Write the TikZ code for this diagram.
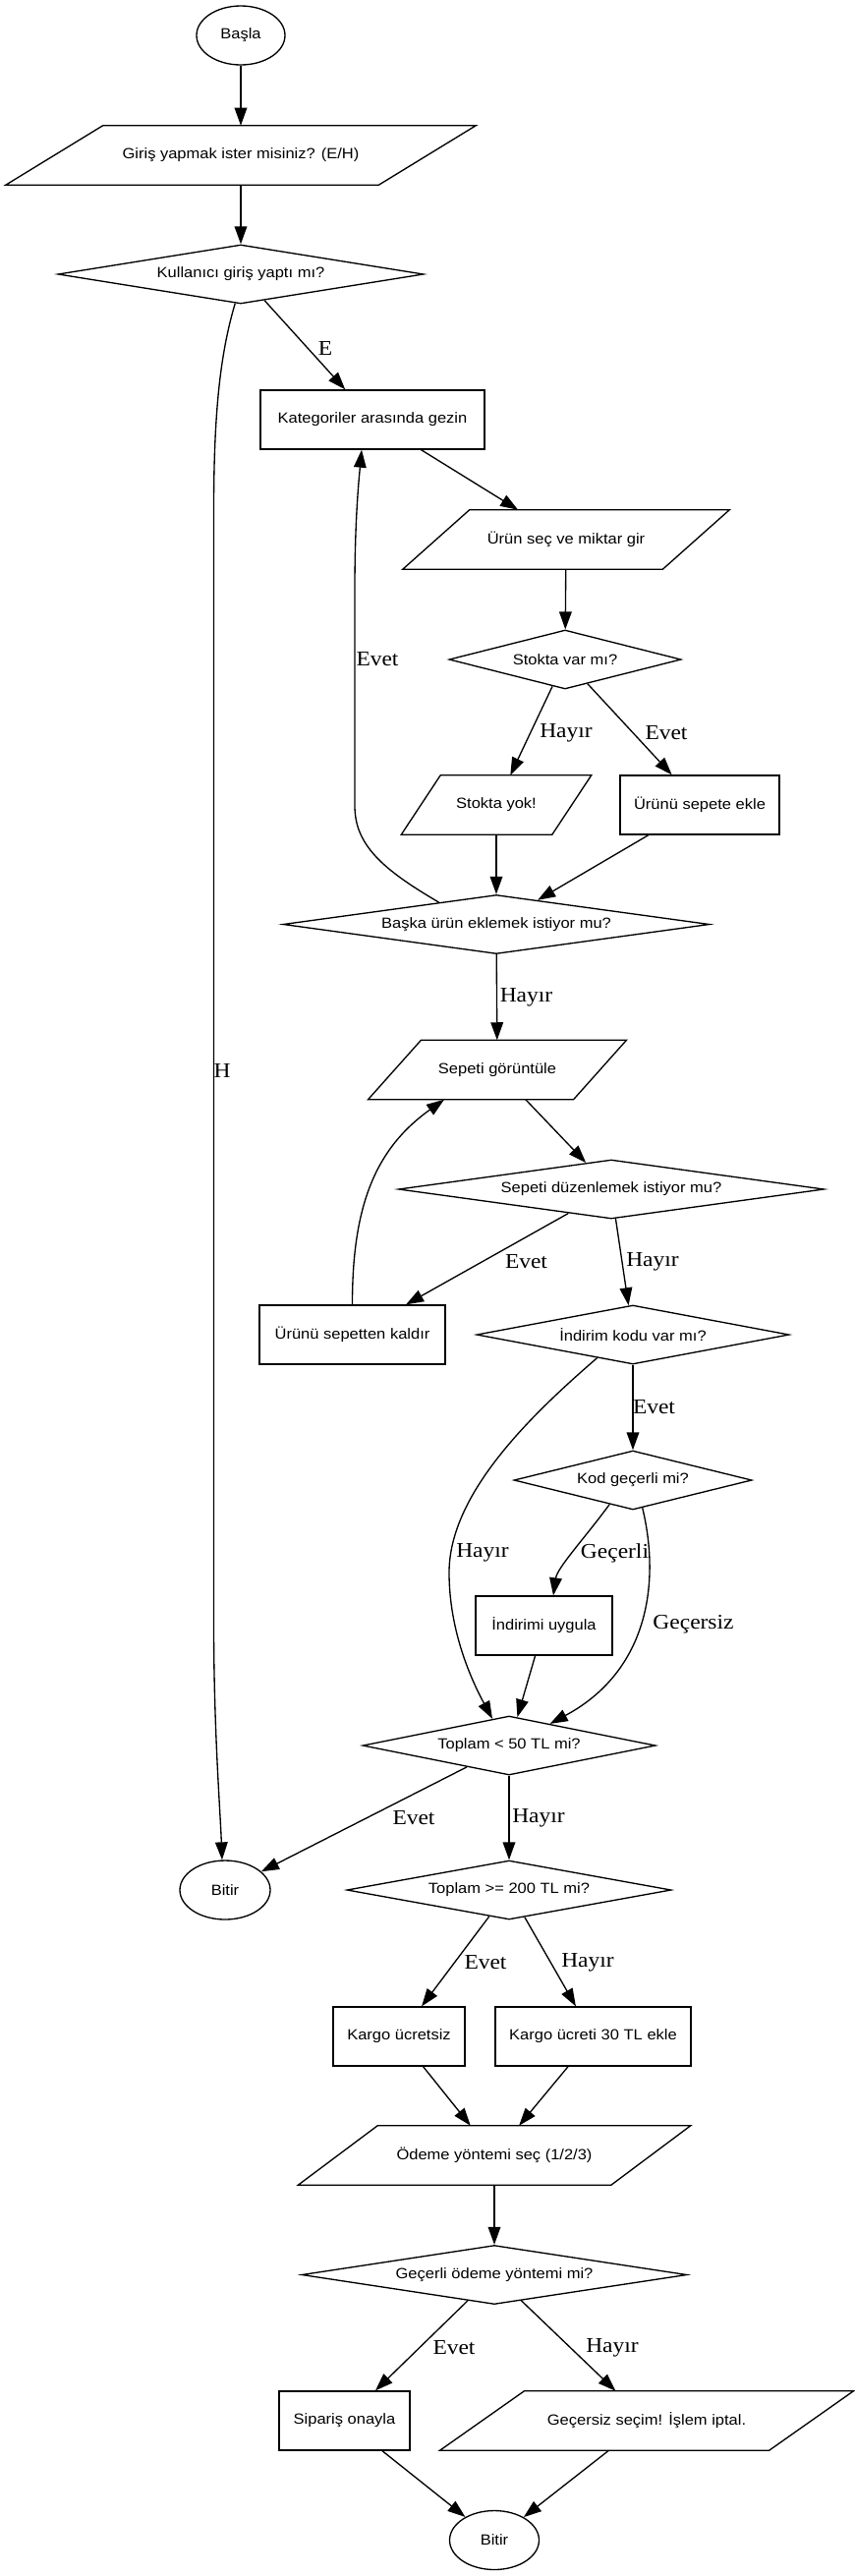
\documentclass[tikz,border=0pt]{standalone}
\usepackage{fontspec}
\newfontfamily\nfont[FakeStretch=1.1]{Liberation Sans}
\newfontfamily\lfont[FakeStretch=1.1]{Liberation Serif}
\usetikzlibrary{shapes.geometric,arrows.meta,calc}
\tikzset{
  nodetext/.style={font=\nfont\fontsize{11.25}{13}\selectfont, text=black},
  term/.style 2 args={ellipse, draw, line width=1pt, inner sep=0pt, nodetext,
    minimum width=#1*0.75pt, minimum height=#2*0.75pt},
  proc/.style 2 args={rectangle, draw, line width=1pt, inner sep=0pt, nodetext,
    minimum width=#1*0.75pt, minimum height=#2*0.75pt},
  dec/.style 2 args={diamond, draw, line width=1pt, inner sep=0pt, nodetext,
    minimum width=#1*0.75pt, minimum height=#2*0.75pt},
  iotext/.style={rectangle, draw=none, inner sep=0pt, nodetext, minimum height=45pt},
  ioshape/.style={draw, line width=1pt, line join=miter},
  arr/.style={draw, line width=1pt, -{Triangle[length=13.5pt,width=9.5pt]}},
  lbl/.style={font=\lfont\fontsize{16}{18}\selectfont, inner sep=0pt, text=black},
}
% name, x, y, common width, skew, text
\newcommand\paranode[6]{%
  \node[iotext, minimum width=#4*0.75pt] (#1) at (#2,#3) {#6};
  \draw[ioshape] ($(#1.north west)+(#5/2,0)$) -- ($(#1.north east)+(#5/2,0)$)
     -- ($(#1.south east)-(#5/2,0)$) -- ($(#1.south west)-(#5/2,0)$) -- cycle;
}
\begin{document}
\begin{tikzpicture}[x=0.75pt, y=-0.75pt]
\useasboundingbox (0,0) rectangle (870,2621);

% nodes
\node[term={90}{60}] (basla) at (245,36) {Başla};
\paranode{in1}{245}{158}{379}{99}{Giriş yapmak ister misiniz? (E/H)}
\node[dec={372}{60}, aspect=6.2] (d1) at (245,279) {Kullanıcı giriş yaptı mı?};
\node[proc={228}{60}] (kat) at (379,427) {Kategoriler arasında gezin};
\paranode{in2}{576}{549}{264}{68}{Ürün seç ve miktar gir}
\node[dec={236}{60}, aspect=3.93] (d2) at (575,671) {Stokta var mı?};
\paranode{yok}{505}{819}{153}{40}{Stokta yok!}
\node[proc={162}{60}] (ekle) at (712,819) {Ürünü sepete ekle};
\node[dec={434}{60}, aspect=7.23] (d3) at (505,940.5) {Başka ürün eklemek istiyor mu?};
\paranode{sg}{506}{1088.5}{208.5}{54}{Sepeti görüntüle}
\node[dec={433}{60}, aspect=7.22] (d4) at (622,1210) {Sepeti düzenlemek istiyor mu?};
\node[proc={189}{60}] (kaldir) at (358.5,1358) {Ürünü sepetten kaldır};
\node[dec={318}{60}, aspect=5.3] (d5) at (644,1358) {İndirim kodu var mı?};
\node[dec={242}{60}, aspect=4.03] (d6) at (644,1506) {Kod geçerli mi?};
\node[proc={139}{60}] (uyg) at (553.5,1654) {İndirimi uygula};
\node[dec={298}{60}, aspect=4.97] (d7) at (518,1776) {Toplam < 50 TL mi?};
\node[term={92}{60}] (bitir1) at (229,1923) {Bitir};
\node[dec={330}{60}, aspect=5.5] (d8) at (518,1923) {Toplam >= 200 TL mi?};
\node[proc={134}{60}] (kf) at (406,2072) {Kargo ücretsiz};
\node[proc={199}{60}] (k30) at (603.5,2072) {Kargo ücreti 30 TL ekle};
\paranode{odeme}{503}{2193}{318}{81}{Ödeme yöntemi seç (1/2/3)}
\node[dec={392}{60}, aspect=6.53] (d9) at (503,2314.5) {Geçerli ödeme yöntemi mi?};
\node[proc={133}{60}] (onay) at (350.5,2463) {Sipariş onayla};
\paranode{iptal}{658}{2463}{334.5}{86}{Geçersiz seçim! İşlem iptal.}
\node[term={91}{60}] (bitir2) at (503,2584.5) {Bitir};

% connectors
\draw[arr] (basla) -- (in1);
\draw[arr] (in1) -- (d1);
\draw[arr] (d1) -- (kat);
\node[lbl] (lE) at (331,355) {E};
\draw[arr] (d1.259) .. controls (224,360) and (217.5,420) .. (217.5,520)
   -- (217.5,1650) .. controls (217.5,1760) and (224,1840) .. ($(bitir1.north)+(-3,0)$);
\node[lbl] (lH) at (226,1089) {H};
\draw[arr] (kat) -- (in2);
\draw[arr] (in2) -- (d2);
\draw[arr] (d2) -- (yok);
\node[lbl] (l1) at (576,745.6) {Hayır};
\draw[arr] (d2) -- (ekle);
\node[lbl] (l2) at (678,745.6) {Evet};
\draw[arr] (yok) -- (d3);
\draw[arr] (ekle) -- (d3);
\draw[arr] (d3.159) .. controls (390,885) and (361,860) .. (361,820)
   -- (361,600) .. controls (361,530) and (365,490) .. ($(kat.south)+(-11,0)$);
\node[lbl] (l3) at (384,671) {Evet};
\draw[arr] (d3) -- (sg);
\node[lbl] (l4) at (535.5,1015) {Hayır};
\draw[arr] (sg) -- (d4);
\draw[arr] (d4) -- (kaldir);
\node[lbl] (l5) at (535.5,1284) {Evet};
\draw[arr] (kaldir.north) .. controls (358.5,1230) and (380,1170) .. ($(sg.south)+(-54,0)$);
\draw[arr] (d4) -- (d5);
\node[lbl] (l6) at (664,1284) {Hayır};
\draw[arr] (d5) -- (d6);
\node[lbl] (l7) at (665.5,1432) {Evet};
\draw[arr] (d5.213) .. controls (540,1440) and (457,1520) .. (457,1600)
   .. controls (457,1660) and (480,1710) .. (d7.122);
\node[lbl] (l8) at (491,1580) {Hayır};
\draw[arr] (d6.226) .. controls (595,1565) and (567,1595) .. ($(uyg.north)+(9.5,0)$);
\node[lbl] (l9) at (625.5,1580) {Geçerli};
\draw[arr] (d6.289) .. controls (672,1610) and (660,1700) .. (d7.28);
\node[lbl] (l10) at (705.5,1653) {Geçersiz};
\draw[arr] (uyg) -- (d7);
\draw[arr] (d7) -- (bitir1);
\node[lbl] (l11) at (421,1850) {Evet};
\draw[arr] (d7) -- (d8);
\node[lbl] (l12) at (548,1850) {Hayır};
\draw[arr] (d8) -- (kf);
\node[lbl] (l13) at (494,1997) {Evet};
\draw[arr] (d8) -- (k30);
\node[lbl] (l14) at (598,1997) {Hayır};
\draw[arr] (kf) -- (odeme);
\draw[arr] (k30) -- (odeme);
\draw[arr] (odeme) -- (d9);
\draw[arr] (d9) -- (onay);
\node[lbl] (l15) at (462,2389) {Evet};
\draw[arr] (d9) -- (iptal);
\node[lbl] (l16) at (623,2389) {Hayır};
\draw[arr] (onay) -- (bitir2);
\draw[arr] (iptal) -- (bitir2);
\end{tikzpicture}
\end{document}
